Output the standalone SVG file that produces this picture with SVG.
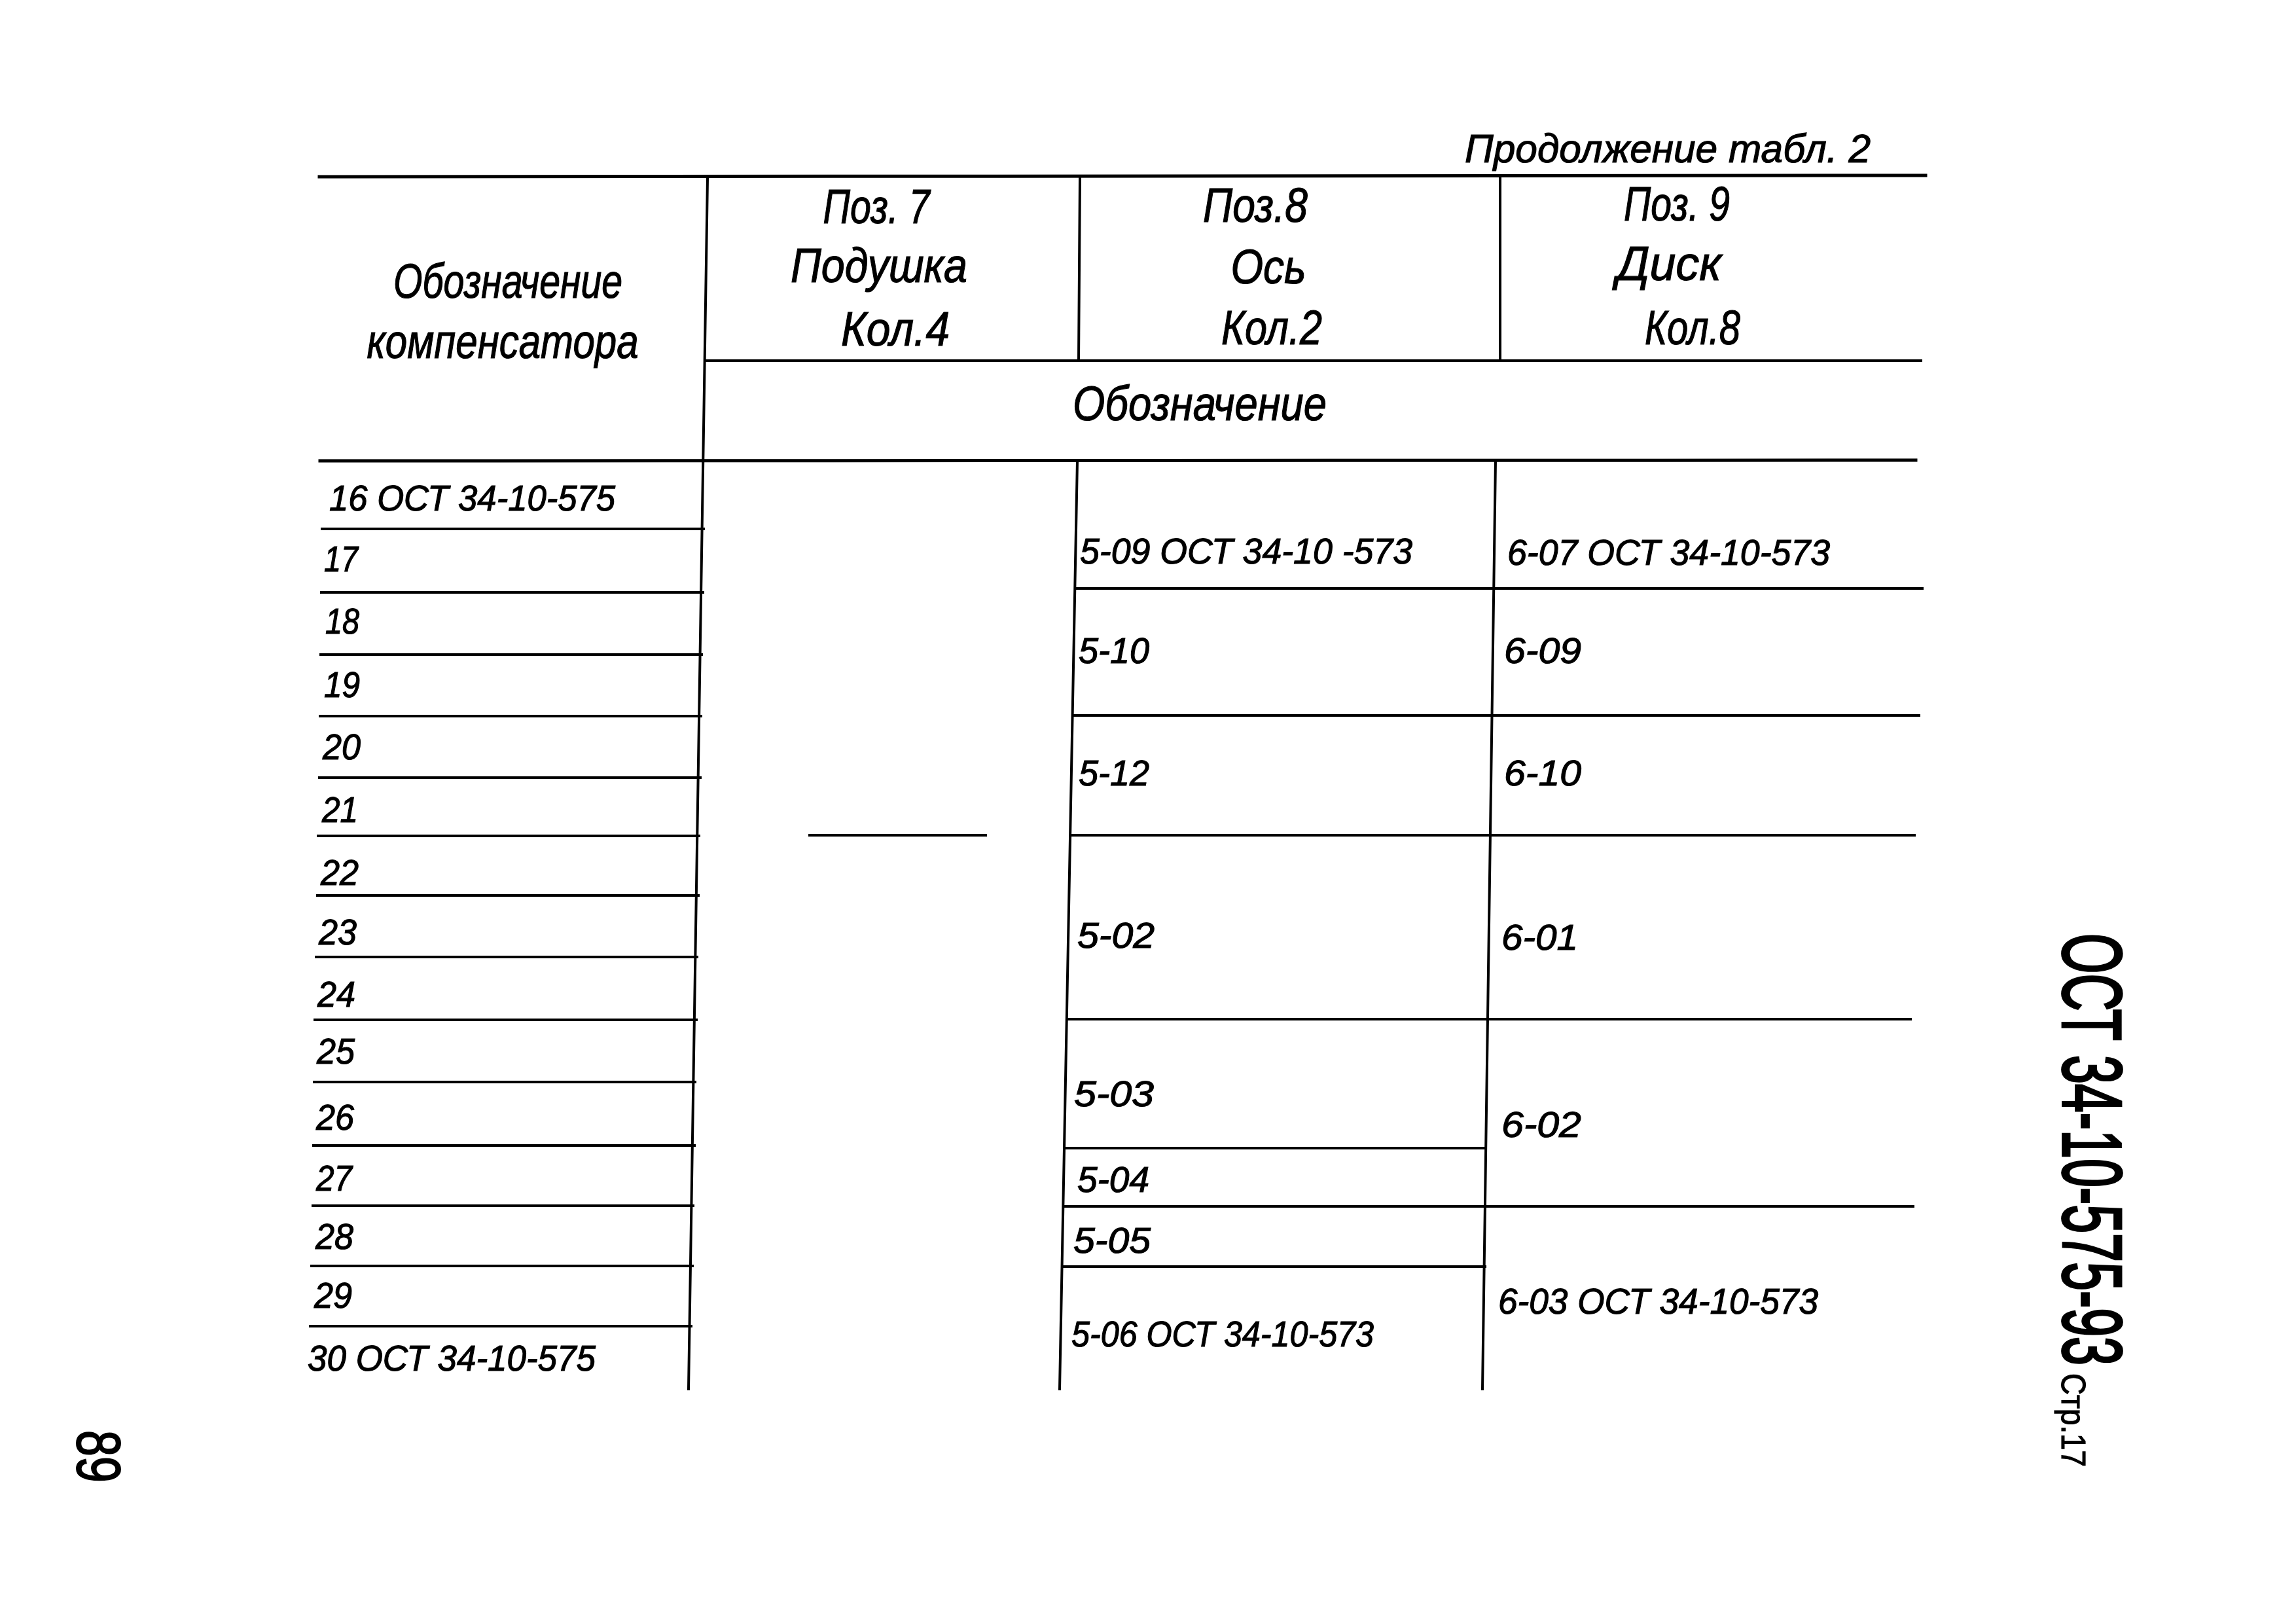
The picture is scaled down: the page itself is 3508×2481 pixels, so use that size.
<svg xmlns="http://www.w3.org/2000/svg" width="3508" height="2481" viewBox="0 0 3508 2481">
<style>
.t{font-family:"Liberation Sans","DejaVu Sans",sans-serif;font-style:italic;fill:#000;stroke:#000;stroke-width:1.2}
.h{font-size:74px}
.b{font-size:56px}
.m{text-anchor:middle}
.L{stroke:#000;stroke-width:5;fill:none;stroke-linecap:square}
.l{stroke:#000;stroke-width:4;fill:none;stroke-linecap:square}
</style>
<rect x="0" y="0" width="3508" height="2481" fill="#fff"/>
<g id="grid">
<line class="L" x1="488" y1="270" x2="2942" y2="268"/>
<line class="l" x1="1080" y1="551" x2="2935" y2="551"/>
<line class="L" x1="489" y1="704" x2="2927" y2="703"/>
<line class="l" x1="1081" y1="273" x2="1052" y2="2122"/>
<line class="l" x1="1650" y1="273" x2="1648" y2="551"/>
<line class="l" x1="2292" y1="273" x2="2292" y2="551"/>
<line class="l" x1="1646" y1="704" x2="1619" y2="2122"/>
<line class="l" x1="2285" y1="704" x2="2265" y2="2122"/>
<line class="l" x1="492" y1="808" x2="1075" y2="808"/>
<line class="l" x1="491" y1="905" x2="1074" y2="905"/>
<line class="l" x1="490" y1="1000" x2="1072" y2="1000"/>
<line class="l" x1="489" y1="1094" x2="1071" y2="1094"/>
<line class="l" x1="488" y1="1188" x2="1070" y2="1188"/>
<line class="l" x1="486" y1="1277" x2="1068" y2="1277"/>
<line class="l" x1="485" y1="1368" x2="1067" y2="1368"/>
<line class="l" x1="483" y1="1462" x2="1065" y2="1462"/>
<line class="l" x1="481" y1="1558" x2="1064" y2="1558"/>
<line class="l" x1="480" y1="1653" x2="1062" y2="1653"/>
<line class="l" x1="479" y1="1750" x2="1061" y2="1750"/>
<line class="l" x1="478" y1="1842" x2="1059" y2="1842"/>
<line class="l" x1="476" y1="1934" x2="1058" y2="1934"/>
<line class="l" x1="474" y1="2026" x2="1056" y2="2026"/>
<line class="l" x1="1643" y1="899" x2="2937" y2="899"/>
<line class="l" x1="1639" y1="1093" x2="2932" y2="1093"/>
<line class="l" x1="1636" y1="1276" x2="2925" y2="1276"/>
<line class="l" x1="1630" y1="1557" x2="2919" y2="1557"/>
<line class="l" x1="1627" y1="1754" x2="2270" y2="1754"/>
<line class="l" x1="1625" y1="1843" x2="2923" y2="1843"/>
<line class="l" x1="1623" y1="1935" x2="2269" y2="1935"/>
<line class="l" x1="1237" y1="1276" x2="1506" y2="1276"/>
</g>
<g id="header">
<text class="t" x="2238" y="248" font-size="62" textLength="620" lengthAdjust="spacingAndGlyphs">Продолжение табл. 2</text>
<text class="t h m" x="776" y="455" textLength="350" lengthAdjust="spacingAndGlyphs">Обозначение</text>
<text class="t h m" x="768" y="547" textLength="415" lengthAdjust="spacingAndGlyphs">компенсатора</text>
<text class="t h m" x="1339" y="341" textLength="163" lengthAdjust="spacingAndGlyphs">Поз. 7</text>
<text class="t h m" x="1343" y="431" textLength="270" lengthAdjust="spacingAndGlyphs">Подушка</text>
<text class="t h m" x="1368" y="528" textLength="166" lengthAdjust="spacingAndGlyphs">Кол.4</text>
<text class="t h m" x="1918" y="339" textLength="160" lengthAdjust="spacingAndGlyphs">Поз.8</text>
<text class="t h m" x="1938" y="433" textLength="115" lengthAdjust="spacingAndGlyphs">Ось</text>
<text class="t h m" x="1943" y="526" textLength="154" lengthAdjust="spacingAndGlyphs">Кол.2</text>
<text class="t h m" x="2562" y="337" textLength="162" lengthAdjust="spacingAndGlyphs">Поз. 9</text>
<text class="t h m" x="2550" y="428" textLength="160" lengthAdjust="spacingAndGlyphs">Диск</text>
<text class="t h m" x="2586" y="526" textLength="146" lengthAdjust="spacingAndGlyphs">Кол.8</text>
<text class="t h m" x="1833" y="642" textLength="388" lengthAdjust="spacingAndGlyphs">Обозначение</text>
</g>
<g id="rows">
<text class="t b" x="503" y="780" textLength="437" lengthAdjust="spacingAndGlyphs">16 ОСТ 34-10-575</text>
<text class="t b" x="495" y="873" textLength="52" lengthAdjust="spacingAndGlyphs">17</text>
<text class="t b" x="497" y="968" textLength="52" lengthAdjust="spacingAndGlyphs">18</text>
<text class="t b" x="495" y="1065" textLength="55" lengthAdjust="spacingAndGlyphs">19</text>
<text class="t b" x="493" y="1160" textLength="58" lengthAdjust="spacingAndGlyphs">20</text>
<text class="t b" x="492" y="1256" textLength="55" lengthAdjust="spacingAndGlyphs">21</text>
<text class="t b" x="490" y="1352" textLength="58" lengthAdjust="spacingAndGlyphs">22</text>
<text class="t b" x="487" y="1443" textLength="58" lengthAdjust="spacingAndGlyphs">23</text>
<text class="t b" x="485" y="1538" textLength="58" lengthAdjust="spacingAndGlyphs">24</text>
<text class="t b" x="484" y="1625" textLength="58" lengthAdjust="spacingAndGlyphs">25</text>
<text class="t b" x="483" y="1726" textLength="58" lengthAdjust="spacingAndGlyphs">26</text>
<text class="t b" x="483" y="1819" textLength="55" lengthAdjust="spacingAndGlyphs">27</text>
<text class="t b" x="482" y="1908" textLength="58" lengthAdjust="spacingAndGlyphs">28</text>
<text class="t b" x="480" y="1998" textLength="58" lengthAdjust="spacingAndGlyphs">29</text>
<text class="t b" x="470" y="2094" textLength="440" lengthAdjust="spacingAndGlyphs">30 ОСТ 34-10-575</text>
</g>
<g id="pos8">
<text class="t b" x="1650" y="861" textLength="508" lengthAdjust="spacingAndGlyphs">5-09 ОСТ 34-10 -573</text>
<text class="t b" x="1648" y="1013" textLength="108" lengthAdjust="spacingAndGlyphs">5-10</text>
<text class="t b" x="1648" y="1200" textLength="108" lengthAdjust="spacingAndGlyphs">5-12</text>
<text class="t b" x="1646" y="1448" textLength="118" lengthAdjust="spacingAndGlyphs">5-02</text>
<text class="t b" x="1641" y="1690" textLength="122" lengthAdjust="spacingAndGlyphs">5-03</text>
<text class="t b" x="1646" y="1821" textLength="110" lengthAdjust="spacingAndGlyphs">5-04</text>
<text class="t b" x="1640" y="1914" textLength="118" lengthAdjust="spacingAndGlyphs">5-05</text>
<text class="t b" x="1637" y="2057" textLength="462" lengthAdjust="spacingAndGlyphs">5-06 ОСТ 34-10-573</text>
</g>
<g id="pos9">
<text class="t b" x="2303" y="863" textLength="493" lengthAdjust="spacingAndGlyphs">6-07 ОСТ 34-10-573</text>
<text class="t b" x="2298" y="1013" textLength="118" lengthAdjust="spacingAndGlyphs">6-09</text>
<text class="t b" x="2298" y="1200" textLength="118" lengthAdjust="spacingAndGlyphs">6-10</text>
<text class="t b" x="2294" y="1451" textLength="117" lengthAdjust="spacingAndGlyphs">6-01</text>
<text class="t b" x="2294" y="1737" textLength="122" lengthAdjust="spacingAndGlyphs">6-02</text>
<text class="t b" x="2289" y="2007" textLength="489" lengthAdjust="spacingAndGlyphs">6-03 ОСТ 34-10-573</text>
</g>
<g id="stamp">
<text class="t" font-size="100" transform="translate(3152,1426) rotate(90) scale(1,1.28)" textLength="660" lengthAdjust="spacingAndGlyphs" style="font-style:normal;stroke-width:3">ОСТ 34-10-575-93</text>
<text class="t" font-size="52" transform="translate(3150,2098) rotate(90)" textLength="143" lengthAdjust="spacingAndGlyphs" style="font-style:normal">Стр.17</text>
<text class="t" font-size="95" transform="translate(118,2185) rotate(90)" textLength="80" lengthAdjust="spacingAndGlyphs" style="font-style:normal;stroke-width:2">89</text>
</g>
</svg>
